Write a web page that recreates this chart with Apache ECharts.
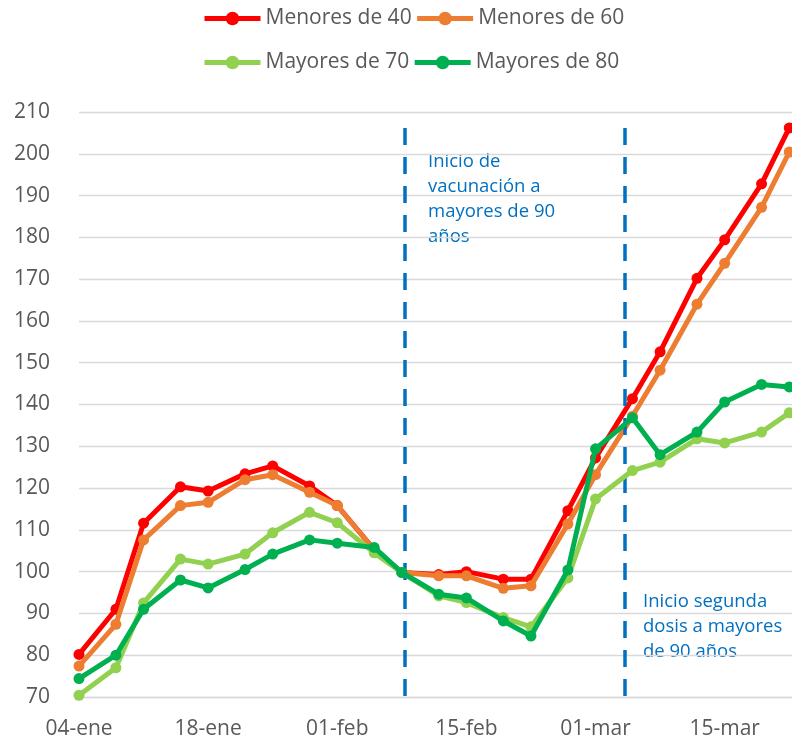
<!DOCTYPE html>
<html>
<head>
<meta charset="utf-8">
<script src="https://cdn.jsdelivr.net/npm/echarts@6/dist/echarts.min.js"></script>
<style>
  html, body { margin: 0; padding: 0; background: #fff; }
  #chart { width: 792px; height: 740px; }
</style>
</head>
<body>
<div id="chart"></div>
<script>
// fechas de los datos (2021)
const dates = [
  "2021-01-04", "2021-01-08", "2021-01-11", "2021-01-15", "2021-01-18", "2021-01-22",
  "2021-01-25", "2021-01-29", "2021-02-01", "2021-02-05", "2021-02-08", "2021-02-12",
  "2021-02-15", "2021-02-19", "2021-02-22", "2021-02-26", "2021-03-01", "2021-03-05",
  "2021-03-08", "2021-03-12", "2021-03-15", "2021-03-19", "2021-03-22"
];
const menores40 = [80.2, 91, 111.6, 120.3, 119.3, 123.4, 125.3, 120.5, 115.8, 105.3, 99.8, 99.3,
  100, 98.2, 98.2, 114.6, 127.2, 141.4, 152.6, 170.2, 179.4, 192.8, 206.2];
const menores60 = [77.4, 87.4, 107.6, 115.8, 116.6, 122, 123.2, 119, 115.8, 105.2, 99.8, 99,
  99, 96, 96.6, 111.4, 123.2, 137.2, 148.2, 164, 173.8, 187.2, 200.4];
const mayores70 = [70.4, 77, 92.5, 103, 101.8, 104.2, 109.3, 114.2, 111.7, 104.5, 99.8, 94.2,
  92.6, 89, 86.8, 98.5, 117.4, 124.2, 126.2, 131.8, 130.8, 133.4, 138];
const mayores80 = [74.4, 80, 91, 98, 96.1, 100.5, 104.2, 107.6, 106.8, 105.8, 99.8, 94.6,
  93.7, 88.2, 84.6, 100.4, 129.4, 136.8, 128, 133.4, 140.6, 144.8, 144.2];
const seriesNames = ["Menores de 40", "Menores de 60", "Mayores de 70", "Mayores de 80"];
const seriesColors = ["#FF0000", "#ED7D31", "#92D050", "#00B050"];
// líneas de eventos (fecha, fracción de día)
const eventDates = ["2021-02-08", "2021-03-04"];
const eventShift = [0.3, 0.2];
const eventTexts = ["Inicio de\nvacunación a\nmayores de 90\naños", "Inicio segunda\ndosis a mayores\nde 90 años"];
const meses = ["ene", "feb", "mar", "abr", "may", "jun", "jul", "ago", "sep", "oct", "nov", "dic"];

const DAY = 86400000;
const t0 = Date.parse(dates[0]);
function dayOf(s) {
  return (Date.parse(s) - t0) / DAY;
}
function labelOf(d) {
  const dt = new Date(t0 + Math.round(d) * DAY);
  const dd = String(dt.getUTCDate()).padStart(2, "0");
  return dd + "-" + meses[dt.getUTCMonth()];
}

const font = "'Open Sans', 'Noto Sans', sans-serif";
const allValues = [menores40, menores60, mayores70, mayores80];

const chart = echarts.init(document.getElementById("chart"));

const series = allValues.map(function (vals, i) {
  return {
    name: seriesNames[i],
    type: "line",
    data: vals.map(function (v, j) { return [dayOf(dates[j]), v]; }),
    symbol: "circle",
    symbolSize: 11,
    lineStyle: { width: 5, color: seriesColors[i] },
    itemStyle: { color: seriesColors[i] },
    z: 3 + i,
  };
});

// líneas discontinuas azules
series[0].markLine = {
  silent: true,
  symbol: "none",
  label: { show: false },
  lineStyle: { color: "#0070C0", width: 3.5, type: [17, 12] },
  data: eventDates.map(function (d, i) {
    const x = dayOf(d) + eventShift[i];
    return [{ coord: [x, 206.2] }, { coord: [x, 70] }];
  }),
};

const legendText = { color: "#595959", fontSize: 21, fontFamily: font, width: 146 };
const legendBase = {
  left: 202, padding: 0,
  itemWidth: 56, itemHeight: 17, itemGap: 3,
  lineStyle: { width: 5 },
  textStyle: legendText,
};

const option = {
  animation: false,
  color: seriesColors,
  legend: [
    Object.assign({ data: [seriesNames[0], seriesNames[1]], top: 8 }, legendBase),
    Object.assign({ data: [seriesNames[2], seriesNames[3]], top: 52 }, legendBase),
  ],
  grid: { left: 79, right: 0, top: 112, bottom: 42 },
  xAxis: {
    type: "value",
    min: 0,
    max: 77.3,
    interval: 14,
    splitLine: { show: false },
    axisTick: { show: false },
    axisLine: { show: true, lineStyle: { color: "#D9D9D9", width: 1.3 } },
    axisLabel: {
      color: "#595959", fontSize: 21, fontFamily: font, margin: 22,
      showMaxLabel: false,
      formatter: labelOf,
    },
  },
  yAxis: {
    type: "value",
    min: 70,
    max: 210,
    interval: 10,
    axisLine: { show: false },
    axisTick: { show: false },
    splitLine: { lineStyle: { color: "#D9D9D9", width: 1.3 } },
    axisLabel: { color: "#595959", fontSize: 21, fontFamily: font, margin: 29 },
  },
  graphic: [
    {
      type: "text", left: 428, top: 149,
      style: { text: eventTexts[0], fill: "#0070C0", fontSize: 18.5, fontFamily: font, lineHeight: 25 },
    },
    {
      type: "text", left: 643, top: 589,
      style: { text: eventTexts[1], fill: "#0070C0", fontSize: 18.5, fontFamily: font, lineHeight: 25 },
    },
  ],
  series: series,
};

chart.setOption(option);
</script>
</body>
</html>
